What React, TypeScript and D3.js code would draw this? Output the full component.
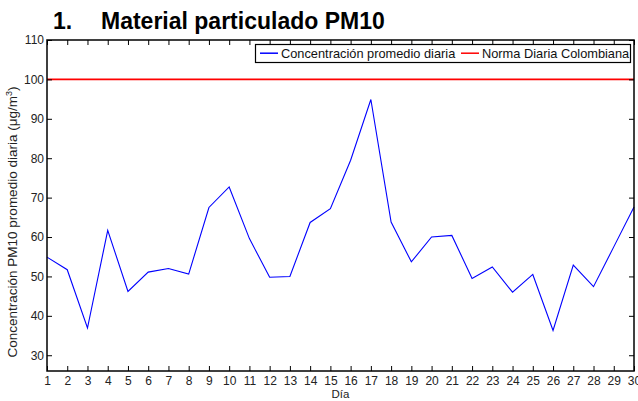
import { useEffect, useRef } from 'react';
import * as d3 from 'd3';

// Día 1..30
const days = d3.range(1, 31);
const concentration = [
  54.9, 51.7, 36.9, 61.7, 46.2, 51.1, 52.0, 50.6, 67.5, 72.7,
  59.6, 49.8, 50.0, 63.7, 67.2, 79.5, 94.9, 63.8, 53.7, 60.0,
  60.4, 49.5, 52.4, 46.0, 50.5, 36.3, 52.9, 47.4, 57.5, 67.6,
];
const norma = 100;
const yTicks = [30, 40, 50, 60, 70, 80, 90, 100, 110];
const seriesLabels = ['Concentración promedio diaria', 'Norma Diaria Colombiana'];

const W = 638;
const H = 401;

const App = () => {
  const svgRef = useRef<SVGSVGElement>(null);

  useEffect(() => {
    if (!svgRef.current) return;
    const svg = d3.select(svgRef.current);
    svg.selectAll('*').remove();

    const left = 47, right = 634, top = 40, bottom = 371;
    const font = '"Liberation Sans", Arial, sans-serif';

    const x = d3.scaleLinear().domain([1, 30]).range([left, right]);
    const y = d3.scaleLinear().domain([26, 110]).range([bottom, top]);

    // Title
    const title = svg.append('text')
      .attr('y', 29)
      .style('font-family', font)
      .style('font-size', '23px')
      .style('font-weight', 'bold')
      .style('fill', '#000');
    title.append('tspan').attr('x', 53).text('1.');
    title.append('tspan').attr('x', 101).text('Material particulado PM10');

    // Norma line (slightly soft, like the original export)
    svg.append('line')
      .attr('x1', left).attr('x2', right)
      .attr('y1', y(norma)).attr('y2', y(norma))
      .attr('stroke', '#ff0000')
      .attr('stroke-width', 1.6);

    const line = d3.line<number>()
      .x((_, i) => x(days[i]))
      .y(d => y(d));

    svg.append('path')
      .datum(concentration)
      .attr('d', line)
      .attr('fill', 'none')
      .attr('stroke', '#0000ff')
      .attr('stroke-width', 1.1);

    const styleAxis = (g: d3.Selection<SVGGElement, unknown, null, undefined>, labels: boolean) => {
      g.select('.domain').remove();
      g.selectAll('.tick line').attr('stroke', '#000');
      if (!labels) {
        g.selectAll('.tick text').remove();
        return;
      }
      g.selectAll('.tick text')
        .style('font-family', font)
        .style('font-size', '12px')
        .style('fill', '#222');
    };

    // Bottom axis
    svg.append('g')
      .attr('transform', `translate(0,${bottom})`)
      .call(d3.axisBottom(x).tickValues(days).tickFormat(d3.format('d')).tickSize(-5).tickPadding(5.5))
      .call(g => styleAxis(g, true));

    // Top axis (ticks only)
    svg.append('g')
      .attr('transform', `translate(0,${top})`)
      .call(d3.axisTop(x).tickValues(days).tickSize(-5))
      .call(g => styleAxis(g, false));

    // Left axis
    svg.append('g')
      .attr('transform', `translate(${left},0)`)
      .call(d3.axisLeft(y).tickValues(yTicks).tickSize(-5).tickPadding(3))
      .call(g => styleAxis(g, true));

    // Right axis (ticks only)
    svg.append('g')
      .attr('transform', `translate(${right},0)`)
      .call(d3.axisRight(y).tickValues(yTicks).tickSize(-5))
      .call(g => styleAxis(g, false));

    // Box
    svg.append('rect')
      .attr('x', left).attr('y', top)
      .attr('width', right - left).attr('height', bottom - top)
      .attr('fill', 'none')
      .attr('stroke', '#000')
      .attr('stroke-width', 1.5);

    // Legend
    const legend = svg.append('g');
    legend.append('rect')
      .attr('x', 255.5).attr('y', 44.5)
      .attr('width', 375).attr('height', 18)
      .attr('fill', '#fff')
      .attr('stroke', '#000')
      .attr('stroke-width', 1.2);
    const items = [
      { label: seriesLabels[0], color: '#0000ff', x0: 260 },
      { label: seriesLabels[1], color: '#ff0000', x0: 461 },
    ];
    items.forEach(it => {
      legend.append('line')
        .attr('x1', it.x0).attr('x2', it.x0 + 18)
        .attr('y1', 53.2).attr('y2', 53.2)
        .attr('stroke', it.color)
        .attr('stroke-width', 1.5);
      legend.append('text')
        .attr('x', it.x0 + 21).attr('y', 58)
        .style('font-family', font)
        .style('font-size', '12.8px')
        .style('fill', '#111')
        .text(it.label);
    });

    // Axis labels
    svg.append('text')
      .attr('x', (left + right) / 2).attr('y', 398)
      .attr('text-anchor', 'middle')
      .style('font-family', font)
      .style('font-size', '11.5px')
      .style('fill', '#222')
      .text('Día');

    const yl = svg.append('text')
      .attr('transform', `translate(17,222) rotate(-90)`)
      .attr('text-anchor', 'middle')
      .style('font-family', font)
      .style('font-size', '13.5px')
      .style('fill', '#222');
    yl.append('tspan').text('Concentración PM10 promedio diaria (μg/m');
    yl.append('tspan').attr('dy', -5).style('font-size', '9px').text('3');
    yl.append('tspan').attr('dy', 5).text(')');
  }, []);

  return (
    <svg
      ref={svgRef}
      width={W}
      height={H}
      style={{ position: 'absolute', left: 0, top: 0, background: '#fff' }}
    />
  );
};

export default App;
